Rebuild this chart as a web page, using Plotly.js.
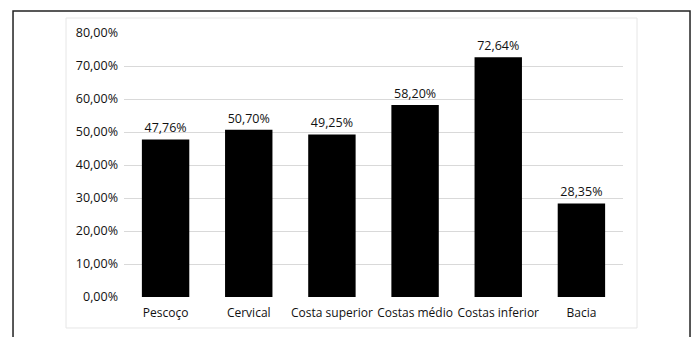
<!DOCTYPE html>
<html>
<head>
<meta charset="utf-8">
<script src="https://cdn.plot.ly/plotly-3.0.1.min.js"></script>
<style>
  html, body { margin: 0; padding: 0; background: #fff; }
  #chart { width: 697px; height: 337px; }
</style>
</head>
<body>
<div id="chart"></div>
<script>
// Body regions and the share of respondents reporting pain in each
const regioes = ['Pescoço', 'Cervical', 'Costa superior', 'Costas médio', 'Costas inferior', 'Bacia'];
const percentuais = [0.4776, 0.5070, 0.4925, 0.5820, 0.7264, 0.2835];
const ticksY = [0, 0.1, 0.2, 0.3, 0.4, 0.5, 0.6, 0.7, 0.8];

const familia = '"Open Sans", "Noto Sans", sans-serif';
const fonteX = { family: familia, size: 12, color: '#111' };
const fonteY = { family: familia, size: 12.5, color: '#111' };

const barras = {
  type: 'bar',
  x: regioes,
  y: percentuais,
  marker: { color: '#000000', line: { width: 0 } },
  texttemplate: '%{y:.2%}',
  textposition: 'outside',
  textfont: { family: familia, size: 12.5, color: '#111' },
  cliponaxis: false,
  hoverinfo: 'none'
};

const layout = {
  width: 697,
  height: 337,
  margin: { l: 124, r: 74, t: 33, b: 40, pad: 0 },
  paper_bgcolor: '#ffffff',
  plot_bgcolor: '#ffffff',
  separators: ',.',
  showlegend: false,
  bargap: 0.43,
  font: fonteY,
  xaxis: {
    type: 'category',
    showgrid: false,
    showline: false,
    zeroline: false,
    ticks: '',
    tickangle: 0,
    ticklabelstandoff: 7,
    tickfont: fonteX,
    fixedrange: true
  },
  yaxis: {
    range: [0, 0.8],
    tickvals: ticksY,
    tickformat: '.2%',
    showgrid: true,
    gridcolor: '#d9d9d9',
    gridwidth: 1,
    zeroline: false,
    showline: false,
    ticks: '',
    ticklabelstandoff: 5,
    tickfont: fonteY,
    fixedrange: true
  },
  shapes: [
    // chart area border
    {
      type: 'rect', xref: 'paper', yref: 'paper', layer: 'below',
      x0: -0.1162, x1: 1.0281, y0: -0.1174, y1: 1.0568,
      line: { color: '#e6e6e6', width: 1 }
    },
    // outer frame (open at the bottom edge of the page)
    {
      type: 'path', xref: 'paper', yref: 'paper', layer: 'above',
      path: 'M -0.2224 -0.3 L -0.2224 1.0833 L 1.1343 1.0833 L 1.1343 -0.3',
      line: { color: '#222222', width: 1.5 }
    }
  ]
};

Plotly.newPlot('chart', [barras], layout, { staticPlot: true, displayModeBar: false });
</script>
</body>
</html>
